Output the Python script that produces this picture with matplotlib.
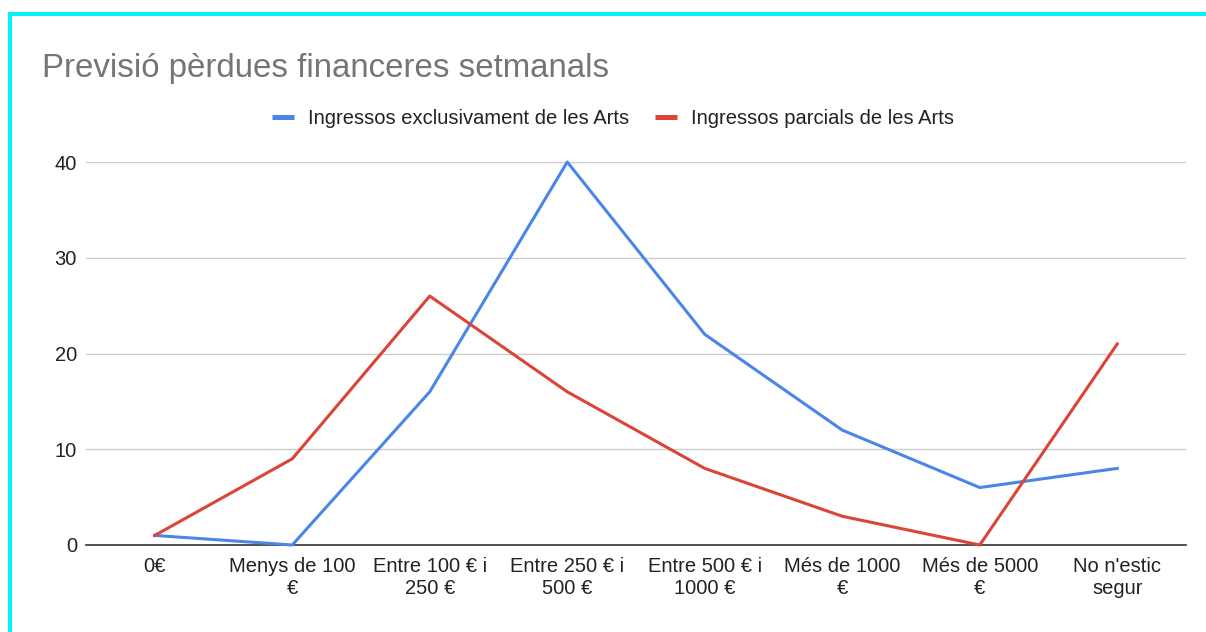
import matplotlib
matplotlib.use("Agg")
import matplotlib.pyplot as plt
from matplotlib.lines import Line2D
from matplotlib.patches import Rectangle

plt.rcParams['font.family'] = ['Liberation Sans', 'DejaVu Sans']

categories = ["0€", "Menys de 100\n€", "Entre 100 € i\n250 €", "Entre 250 € i\n500 €",
              "Entre 500 € i\n1000 €", "Més de 1000\n€", "Més de 5000\n€", "No n'estic\nsegur"]
exclusius = [1, 0, 16, 40, 22, 12, 6, 8]
parcials = [1, 9, 26, 16, 8, 3, 0, 21]
series_names = ["Ingressos exclusivament de les Arts", "Ingressos parcials de les Arts"]
yticks = [0, 10, 20, 30, 40]

W, H = 1206, 632
fig = plt.figure(figsize=(W / 100, H / 100), dpi=100)
fig.patch.set_facecolor("white")

# cyan frame (top and left edges visible)
fig.add_artist(Rectangle((8 / W, -0.1), 4 / W, 1.1 - 12 / H, transform=fig.transFigure,
                         color="#00F5F5", lw=0, clip_on=False))
fig.add_artist(Rectangle((8 / W, 1 - 16 / H), 1.1, 4 / H, transform=fig.transFigure,
                         color="#00F5F5", lw=0, clip_on=False))

ax = fig.add_axes([86 / W, 1 - 545 / H, 1100 / W, 383 / H])
x = list(range(len(categories)))
blue = "#4a86e8"
red = "#db4437"
ax.plot(x, exclusius, color=blue, lw=2.2, clip_on=False, zorder=3)
ax.plot(x, parcials, color=red, lw=2.2, clip_on=False, zorder=3)

ax.set_xlim(-0.5, len(categories) - 0.5)
ax.set_ylim(0, 40)
ax.set_yticks(yticks)
ax.set_yticklabels([str(v) for v in yticks], fontsize=14.5, color="#222222")
ax.set_xticks(x)
ax.set_xticklabels(categories, fontsize=14.5, color="#222222", linespacing=1.15)
ax.tick_params(axis="both", length=0)
ax.tick_params(axis="y", pad=6.5)
ax.tick_params(axis="x", pad=9)
ax.grid(axis="y", color="#cccccc", lw=1)
ax.set_axisbelow(True)
for s in ["top", "right", "left"]:
    ax.spines[s].set_visible(False)
ax.spines["bottom"].set_color("#333333")
ax.spines["bottom"].set_linewidth(1.2)
ax.spines["bottom"].set_zorder(2)

fig.text(42 / W, 1 - 69 / H, "Previsió pèrdues financeres setmanals", fontsize=23.8,
         color="#757575", va="center", ha="left")

handles = [Line2D([], [], color=blue, lw=3.6, solid_capstyle="butt"),
           Line2D([], [], color=red, lw=3.6, solid_capstyle="butt")]
fig.legend(handles, series_names, loc="center", bbox_to_anchor=(613 / W, 1 - 119 / H),
           ncol=2, frameon=False, fontsize=14.5, handlelength=1.09, handletextpad=0.7,
           columnspacing=1.24, labelcolor="#222222")

fig.savefig("out.png", dpi=100)
